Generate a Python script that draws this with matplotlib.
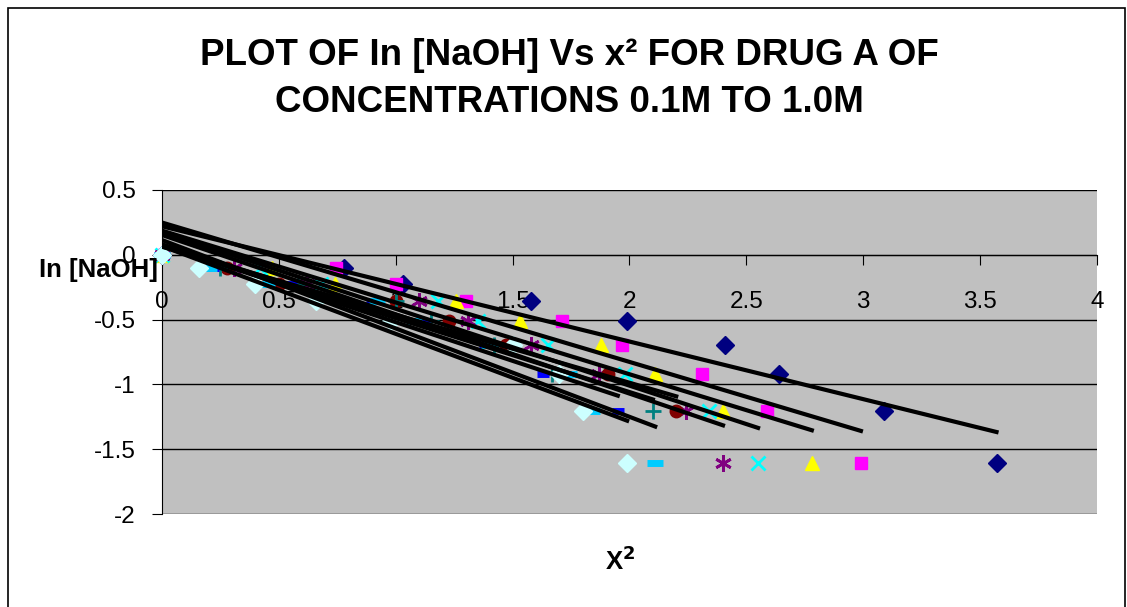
import numpy as np
import matplotlib
matplotlib.use("Agg")
from matplotlib import pyplot as plt
from matplotlib.patches import Rectangle

# ln[NaOH] levels (y values shared by all series)
ln_naoh = [0, -0.105, -0.223, -0.357, -0.511, -0.693, -0.916, -1.204, -1.609]

# x^2 values, one list per series
x_navy = [0, 0.78, 1.03, 1.58, 1.99, 2.41, 2.64, 3.09, 3.57]
x_magenta = [0, 0.745, 1.0, 1.30, 1.71, 1.97, 2.31, 2.59, 2.99]
x_yellow = [0, 0.47, 0.74, 1.26, 1.53, 1.88, 2.11, 2.40, 2.78]
x_cyan = [0, 0.42, 0.68, 1.18, 1.35, 1.65, 1.98, 2.34, 2.55]
x_purple = [0, 0.31, 0.62, 1.10, 1.31, 1.58, 1.87, 2.24, 2.40]
x_darkred = [0, 0.28, 0.50, 1.0, 1.23, 1.47, 1.91, 2.20]
x_teal = [0, 0.25, 0.58, 1.0, 1.15, 1.42, 1.67, 2.10]
x_blue = [0, 0.22, 0.55, 0.90, 1.12, 1.38, 1.63, 1.95]
x_sky = [0, 0.20, 0.45, 0.92, 1.08, 1.40, 1.74, 1.84, 2.11]
x_light = [0, 0.16, 0.40, 0.66, 0.98, 1.50, 1.70, 1.80, 1.99]

series = [
    (x_navy, '#000080', 'D', 9, 1),
    (x_magenta, '#FF00FF', 's', 9, 1),
    (x_yellow, '#FFFF00', '^', 10, 1),
    (x_cyan, '#00FFFF', 'x', 10, 2),
    (x_purple, '#800080', (6, 2, 0), 12, 2),
    (x_darkred, '#800000', 'o', 9, 1),
    (x_teal, '#008080', '+', 12, 2),
    (x_blue, '#0000FF', '_', 9, 5),
    (x_sky, '#00CCFF', '_', 11, 5),
    (x_light, '#CCFFFF', 'D', 9, 1),
]

plt.rcParams['font.family'] = ['Liberation Sans', 'DejaVu Sans']

fig = plt.figure(figsize=(11.27, 6.07), dpi=100)
fig.patch.set_facecolor('white')
fig.patches.append(Rectangle((0.007, -0.01), 0.991, 0.997, transform=fig.transFigure,
                             fill=False, edgecolor='black', linewidth=1.2))

ax = fig.add_axes([0.1437, 0.1532, 0.8297, 0.5338])
ax.set_facecolor('#C0C0C0')
ax.set_xlim(0, 4)
ax.set_ylim(-2, 0.5)
ax.set_yticks([0.5, 0, -0.5, -1, -1.5, -2])
ax.set_yticklabels(['0.5', '0', '-0.5', '-1', '-1.5', '-2'])
ax.set_xticks([0, 0.5, 1, 1.5, 2, 2.5, 3, 3.5, 4])
ax.set_xticklabels(['0', '0.5', '1', '1.5', '2', '2.5', '3', '3.5', '4'])
ax.yaxis.grid(True, color='black', linewidth=1)
ax.set_axisbelow(True)
for s in ['top', 'right']:
    ax.spines[s].set_visible(False)
ax.spines['bottom'].set_position(('data', 0))
ax.tick_params(axis='both', labelsize=17.5, length=7, color='black')
ax.tick_params(axis='x', pad=19)
ax.tick_params(axis='y', pad=12)

for xs, col, mk, ms, mew in series:
    ys = ln_naoh[:len(xs)]
    if mk in ['x', '+', '_'] or isinstance(mk, tuple):
        ax.plot(xs, ys, linestyle='none', marker=mk, markersize=ms, color=col,
                markeredgewidth=mew, clip_on=False, zorder=3)
    else:
        ax.plot(xs, ys, linestyle='none', marker=mk, markersize=ms, color=col,
                markeredgecolor=col, clip_on=False, zorder=3)

# linear trend lines
for xs, col, mk, ms, mew in series:
    ys = ln_naoh[:len(xs)]
    k, b = np.polyfit(xs, ys, 1)
    xx = np.array([min(xs), max(xs)])
    ax.plot(xx, k * xx + b, color='black', linewidth=3, zorder=4)

fig.text(0.505, 0.870, 'PLOT OF In [NaOH] Vs x² FOR DRUG A OF\nCONCENTRATIONS 0.1M TO 1.0M',
         ha='center', va='center', fontsize=26.5, fontweight='bold', linespacing=1.45)
fig.text(0.087, 0.555, 'In [NaOH]', ha='center', va='center', fontsize=18.5, fontweight='bold')
fig.text(0.550, 0.077, 'X$^\\mathbf{2}$', ha='center', va='center', fontsize=18.5, fontweight='bold')

plt.savefig('out.png', dpi=100)
